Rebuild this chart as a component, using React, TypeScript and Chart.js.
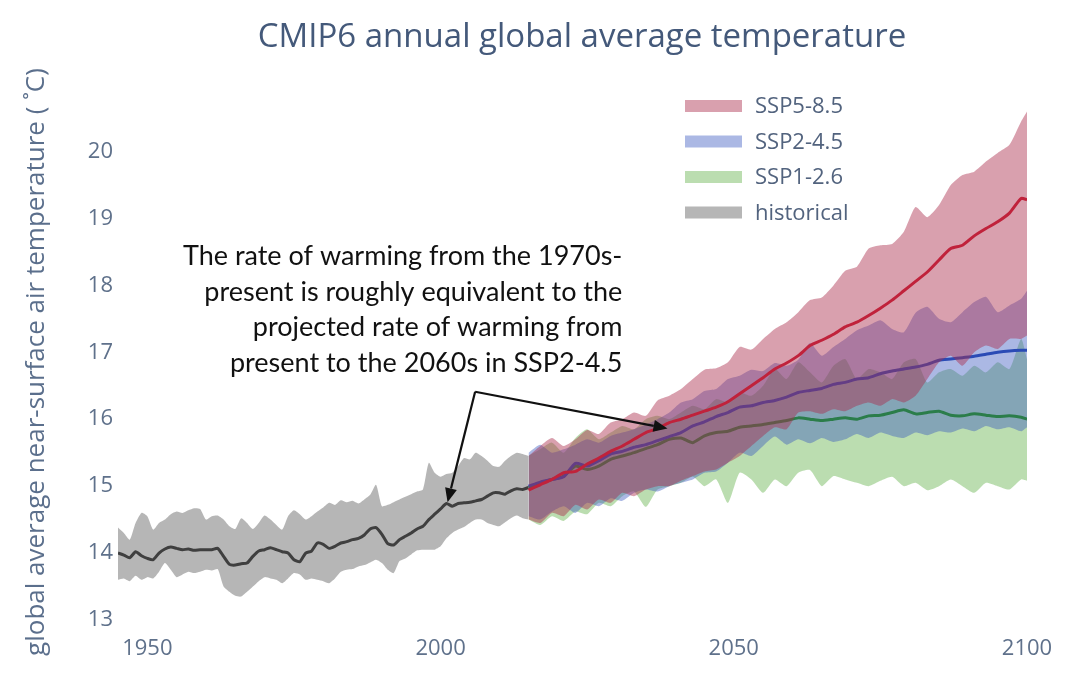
import React, { useEffect, useRef } from "react";
import { Chart, registerables } from "chart.js";

Chart.register(...registerables);

// ---------------- DATA ----------------
const histYears = [
  1945, 1946, 1947, 1948, 1949, 1950, 1951, 1952, 1953, 1954,
  1955, 1956, 1957, 1958, 1959, 1960, 1961, 1962, 1963, 1964,
  1965, 1966, 1967, 1968, 1969, 1970, 1971, 1972, 1973, 1974,
  1975, 1976, 1977, 1978, 1979, 1980, 1981, 1982, 1983, 1984,
  1985, 1986, 1987, 1988, 1989, 1990, 1991, 1992, 1993, 1994,
  1995, 1996, 1997, 1998, 1999, 2000, 2001, 2002, 2003, 2004,
  2005, 2006, 2007, 2008, 2009, 2010, 2011, 2012, 2013, 2014, 2015,
];
const histMean = [
  14.0, 13.97, 13.93, 14.02, 13.96, 13.92, 13.9, 14.0, 14.06, 14.09,
  14.07, 14.05, 14.06, 14.04, 14.05, 14.05, 14.05, 14.07, 13.95, 13.83,
  13.82, 13.84, 13.85, 13.95, 14.03, 14.05, 14.08, 14.05, 14.02, 14.0,
  13.9, 13.87, 14.0, 14.03, 14.15, 14.13, 14.07, 14.1, 14.15, 14.17,
  14.2, 14.22, 14.27, 14.36, 14.38, 14.28, 14.14, 14.12, 14.2, 14.25,
  14.3, 14.36, 14.4, 14.5, 14.58, 14.66, 14.74, 14.7, 14.74, 14.75,
  14.76, 14.78, 14.8, 14.85, 14.9, 14.9, 14.88, 14.93, 14.96, 14.95, 14.98,
];
const histUpper = [
  14.38, 14.3, 14.2, 14.45, 14.6, 14.55, 14.35, 14.45, 14.5, 14.58,
  14.62, 14.6, 14.64, 14.67, 14.66, 14.5, 14.55, 14.56, 14.5, 14.4,
  14.36, 14.52, 14.45, 14.36, 14.45, 14.56, 14.5, 14.42, 14.35, 14.55,
  14.64, 14.58, 14.5, 14.55, 14.62, 14.68, 14.75, 14.72, 14.79, 14.76,
  14.78, 14.74, 14.8, 14.87, 15.02, 14.7, 14.72, 14.76, 14.8, 14.84,
  14.88, 14.92, 14.95, 15.35, 15.2, 15.14, 15.18, 15.2, 15.3, 15.42,
  15.4, 15.5, 15.45, 15.38, 15.3, 15.29, 15.38, 15.45, 15.5, 15.48, 15.45,
];
const histLower = [
  13.6, 13.62, 13.58, 13.66, 13.6, 13.64, 13.62, 13.72, 13.85, 13.75,
  13.64, 13.68, 13.72, 13.7, 13.72, 13.75, 13.74, 13.76, 13.5, 13.42,
  13.36, 13.35, 13.42, 13.5, 13.58, 13.64, 13.62, 13.6, 13.55, 13.62,
  13.7, 13.68, 13.6, 13.62, 13.6, 13.58, 13.55, 13.62, 13.72, 13.75,
  13.76, 13.8, 13.82, 13.86, 13.9, 13.85, 13.75, 13.7, 13.88, 13.92,
  13.98, 14.04, 14.05, 14.05, 14.05, 14.1, 14.22, 14.3, 14.35, 14.39,
  14.45, 14.5, 14.5, 14.45, 14.42, 14.4, 14.46, 14.52, 14.56, 14.52, 14.5,
];

const projYears = [
  2015, 2017, 2019, 2021, 2023, 2025, 2027, 2029, 2031, 2033,
  2035, 2037, 2039, 2041, 2043, 2045, 2047, 2049, 2051, 2053,
  2055, 2057, 2059, 2061, 2063, 2065, 2067, 2069, 2071, 2073,
  2075, 2077, 2079, 2081, 2083, 2085, 2087, 2089, 2091, 2093,
  2095, 2097, 2099, 2100,
];
const ssp585Mean = [
  14.94, 15.02, 15.1, 15.2, 15.22, 15.33, 15.42, 15.52, 15.6, 15.7,
  15.8, 15.86, 15.95, 16.0, 16.06, 16.12, 16.18, 16.26, 16.38, 16.5,
  16.62, 16.75, 16.84, 16.95, 17.1, 17.18, 17.27, 17.38, 17.45, 17.55,
  17.66, 17.78, 17.92, 18.06, 18.2, 18.38, 18.55, 18.6, 18.74, 18.85,
  18.95, 19.08, 19.3, 19.28,
];
const ssp585Upper = [
  15.45, 15.6, 15.72, 15.6, 15.7, 15.84, 15.78, 15.95, 16.0, 16.1,
  16.05, 16.28, 16.35, 16.45, 16.6, 16.74, 16.76, 16.85, 17.08, 17.04,
  17.2, 17.35, 17.45, 17.6, 17.78, 17.82, 18.0, 18.22, 18.28, 18.55,
  18.6, 18.62, 18.8, 19.17, 19.02, 19.2, 19.5, 19.65, 19.7, 19.85,
  19.98, 20.1, 20.45, 20.6,
];
const ssp585Lower = [
  14.5, 14.45, 14.6, 14.55, 14.72, 14.65, 14.8, 14.75, 14.9, 14.85,
  14.95, 15.0, 15.0, 15.08, 15.15, 15.22, 15.25, 15.35, 15.45, 15.6,
  15.75, 15.88, 15.85, 16.1, 16.12, 16.08, 16.15, 16.12, 16.2, 16.25,
  16.2, 16.3, 16.25, 16.35, 16.6, 16.85, 16.95, 16.8, 17.0, 17.1,
  17.05, 17.2, 17.2, 17.25,
];
const ssp245Mean = [
  15.0, 15.06, 15.1, 15.14, 15.34, 15.3, 15.38, 15.48, 15.52, 15.58,
  15.62, 15.68, 15.74, 15.8, 15.9, 15.96, 16.04, 16.1, 16.18, 16.2,
  16.25, 16.28, 16.33, 16.4, 16.43, 16.46, 16.52, 16.55, 16.6, 16.62,
  16.68, 16.72, 16.75, 16.78, 16.82, 16.88, 16.9, 16.92, 16.94, 16.97,
  17.0, 17.02, 17.03, 17.03,
];
const ssp245Upper = [
  15.5, 15.62, 15.5, 15.55, 15.62, 15.7, 15.65, 15.75, 15.8, 15.85,
  15.92, 16.0, 16.1, 16.25, 16.3, 16.42, 16.45, 16.6, 16.65, 16.74,
  16.72, 16.84, 16.8, 16.89, 17.14, 16.95, 17.08, 17.2, 17.33, 17.4,
  17.48, 17.35, 17.3, 17.59, 17.68, 17.5, 17.45, 17.6, 17.75, 17.83,
  17.6, 17.7, 17.8, 17.92,
];
const ssp245Lower = [
  14.55, 14.5, 14.62, 14.7, 14.6, 14.75, 14.7, 14.82, 14.78, 14.9,
  14.95, 14.92, 15.0, 15.05, 15.1, 15.2, 15.22, 15.35, 15.5, 15.45,
  15.6, 15.74, 15.62, 15.7, 15.64, 15.72, 15.66, 15.7, 15.78, 15.72,
  15.8, 15.75, 15.72, 15.8, 15.76, 15.82, 15.8, 15.86, 15.82, 15.9,
  15.85, 15.88, 15.82, 15.88,
];
const ssp126Mean = [
  14.98, 15.05, 15.1, 15.15, 15.3, 15.25, 15.3, 15.4, 15.45, 15.5,
  15.56, 15.62, 15.7, 15.72, 15.65, 15.75, 15.8, 15.82, 15.88, 15.9,
  15.92, 15.95, 15.98, 16.02, 16.0, 15.98, 16.0, 16.02, 16.0, 16.05,
  16.06, 16.1, 16.14, 16.08, 16.1, 16.12, 16.06, 16.05, 16.08, 16.06,
  16.04, 16.05, 16.03, 16.0,
];
const ssp126Upper = [
  15.45, 15.55, 15.65, 15.5, 15.72, 15.85, 15.7, 15.8, 15.9, 15.85,
  16.0, 16.05, 16.0, 16.1, 16.2, 16.15, 16.3, 16.25, 16.4, 16.35,
  16.5, 16.75, 16.6, 16.85, 16.7, 16.55, 16.8, 16.9, 16.6, 16.75,
  16.7, 16.6, 16.85, 16.9, 16.55, 16.7, 16.75, 16.65, 16.8, 16.7,
  16.85, 16.75, 17.2, 16.9,
];
const ssp126Lower = [
  14.5, 14.42, 14.55, 14.48, 14.62, 14.58, 14.75, 14.7, 14.85, 14.92,
  14.69, 14.95, 15.0, 15.05, 15.14, 15.0, 15.1, 14.75, 15.2, 15.1,
  14.9, 15.1, 15.0, 15.2, 15.24, 15.0, 15.15, 15.1, 15.05, 15.0,
  15.08, 15.14, 15.0, 15.05, 14.94, 15.0, 15.1, 15.0, 14.9, 15.05,
  15.0, 14.95, 15.1, 15.08,
];

const xTickValues = [1950, 2000, 2050, 2100];
const yTickValues = [13, 14, 15, 16, 17, 18, 19, 20];
const seriesNames = ["SSP5-8.5", "SSP2-4.5", "SSP1-2.6", "historical"];
const titleText = "CMIP6 annual global average temperature";
const yTitleText = "global average near-surface air temperature ( ˚C)";
const annotationLines = [
  "The rate of warming from the 1970s-",
  "present is roughly equivalent to the",
  "projected rate of warming from",
  "present to the 2060s in SSP2-4.5",
];
const annotationAnchor = [2031.0, 18.43];
const arrowFrom = [2005.9, 16.41];
const arrowTips = [
  [2001.2, 14.76],
  [2038.7, 15.86],
];

// ---------------- STYLE ----------------
const FONT = "'Open Sans', sans-serif";
const fillColors = [
  "rgba(170,45,75,0.45)",
  "rgba(55,85,190,0.42)",
  "rgba(105,180,80,0.45)",
  "rgba(110,110,110,0.5)",
];
const lineColors = ["#c0223b", "#2a4bb5", "#2b7d4a", "#3f3f3f"];
// drawing order: [line, band] — higher is drawn first (lower = on top)
const drawOrder = [
  [10, 11],
  [30, 32],
  [31, 33],
  [40, 41],
];

const pts = (xs: number[], ys: number[]) => xs.map((x, i) => ({ x, y: ys[i] }));

export default function App() {
  const ref = useRef<HTMLCanvasElement>(null);

  useEffect(() => {
    if (!ref.current) return;

    const groups = [
      { xs: projYears, m: ssp585Mean, u: ssp585Upper, l: ssp585Lower },
      { xs: projYears, m: ssp245Mean, u: ssp245Upper, l: ssp245Lower },
      { xs: projYears, m: ssp126Mean, u: ssp126Upper, l: ssp126Lower },
      { xs: histYears, m: histMean, u: histUpper, l: histLower },
    ];

    const datasets: any[] = [];
    groups.forEach((g, gi) => {
      const base = gi * 3;
      const [lo, bo] = drawOrder[gi];
      datasets.push({
        label: seriesNames[gi],
        data: pts(g.xs, g.m),
        borderColor: lineColors[gi],
        borderWidth: 3,
        pointRadius: 0,
        fill: false,
        tension: 0.2,
        order: lo,
      });
      datasets.push({
        label: seriesNames[gi] + " upper",
        data: pts(g.xs, g.u),
        borderWidth: 0,
        borderColor: "rgba(0,0,0,0)",
        backgroundColor: fillColors[gi],
        pointRadius: 0,
        fill: base + 2,
        tension: 0.2,
        order: bo,
      });
      datasets.push({
        label: seriesNames[gi] + " lower",
        data: pts(g.xs, g.l),
        borderWidth: 0,
        borderColor: "rgba(0,0,0,0)",
        pointRadius: 0,
        fill: false,
        tension: 0.2,
        order: bo + 10,
      });
    });

    const overlay = {
      id: "overlay",
      afterDraw(chart: any) {
        const ctx = chart.ctx as CanvasRenderingContext2D;
        const xs = chart.scales.x;
        const ys = chart.scales.y;
        ctx.save();

        // title
        ctx.font = `33px ${FONT}`;
        ctx.fillStyle = "#44597a";
        ctx.textAlign = "center";
        ctx.textBaseline = "middle";
        ctx.fillText(titleText, 582, 38);

        // legend
        ctx.font = `22px ${FONT}`;
        ctx.textAlign = "left";
        seriesNames.forEach((name, i) => {
          const y = 106 + i * 35.5;
          ctx.fillStyle = fillColors[i];
          ctx.fillRect(685, y - 6, 57, 12);
          ctx.fillStyle = "#52637e";
          ctx.fillText(name, 755, y + 1);
        });

        // annotation text
        ctx.font = `27px Lato, sans-serif`;
        ctx.fillStyle = "#111111";
        ctx.textAlign = "right";
        const ax = xs.getPixelForValue(annotationAnchor[0]);
        const ay = ys.getPixelForValue(annotationAnchor[1]);
        annotationLines.forEach((t, i) => ctx.fillText(t, ax, ay + i * 35.5));

        // arrows
        const fx = xs.getPixelForValue(arrowFrom[0]);
        const fy = ys.getPixelForValue(arrowFrom[1]);
        ctx.strokeStyle = "#111111";
        ctx.fillStyle = "#111111";
        ctx.lineWidth = 2.2;
        arrowTips.forEach(([tx, ty]) => {
          const px = xs.getPixelForValue(tx);
          const py = ys.getPixelForValue(ty);
          const ang = Math.atan2(py - fy, px - fx);
          const hl = 14;
          const hw = 6;
          const bx = px - hl * Math.cos(ang);
          const by = py - hl * Math.sin(ang);
          ctx.beginPath();
          ctx.moveTo(fx, fy);
          ctx.lineTo(bx, by);
          ctx.stroke();
          ctx.beginPath();
          ctx.moveTo(px, py);
          ctx.lineTo(bx + hw * Math.sin(ang), by - hw * Math.cos(ang));
          ctx.lineTo(bx - hw * Math.sin(ang), by + hw * Math.cos(ang));
          ctx.closePath();
          ctx.fill();
        });
        ctx.restore();
      },
    };

    const chart = new Chart(ref.current, {
      type: "line",
      data: { datasets },
      options: {
        responsive: false,
        animation: false,
        layout: { padding: { left: 0, right: 53, top: 92, bottom: 0 } },
        plugins: {
          legend: { display: false },
          tooltip: { enabled: false },
          filler: { propagate: false },
        },
        scales: {
          x: {
            type: "linear",
            min: 1945,
            max: 2100,
            grid: { display: false, drawTicks: false },
            border: { display: false },
            ticks: {
              font: { family: FONT, size: 22 },
              color: "#5f718b",
              padding: 4,
              maxRotation: 0,
              callback: (v: any) => String(v),
            },
            afterBuildTicks: (s: any) => {
              s.ticks = xTickValues.map((v) => ({ value: v }));
            },
            afterFit: (s: any) => {
              s.height = 43;
            },
          },
          y: {
            min: 12.82,
            max: 20.89,
            grid: { display: false, drawTicks: false },
            border: { display: false },
            ticks: {
              font: { family: FONT, size: 22 },
              color: "#5f718b",
              padding: 5,
            },
            title: {
              display: true,
              text: yTitleText,
              font: { family: FONT, size: 26 },
              color: "#5b6f8c",
              padding: { top: 21, bottom: 0 },
            },
            afterBuildTicks: (s: any) => {
              s.ticks = yTickValues.map((v) => ({ value: v }));
            },
            afterFit: (s: any) => {
              s.width = 118;
            },
          },
        },
      } as any,
      plugins: [overlay],
    });

    return () => chart.destroy();
  }, []);

  return (
    <div style={{ position: "absolute", left: 0, top: 0, width: 1080, height: 675, background: "#ffffff" }}>
      <canvas ref={ref} width={1080} height={675} style={{ display: "block" }} />
    </div>
  );
}
